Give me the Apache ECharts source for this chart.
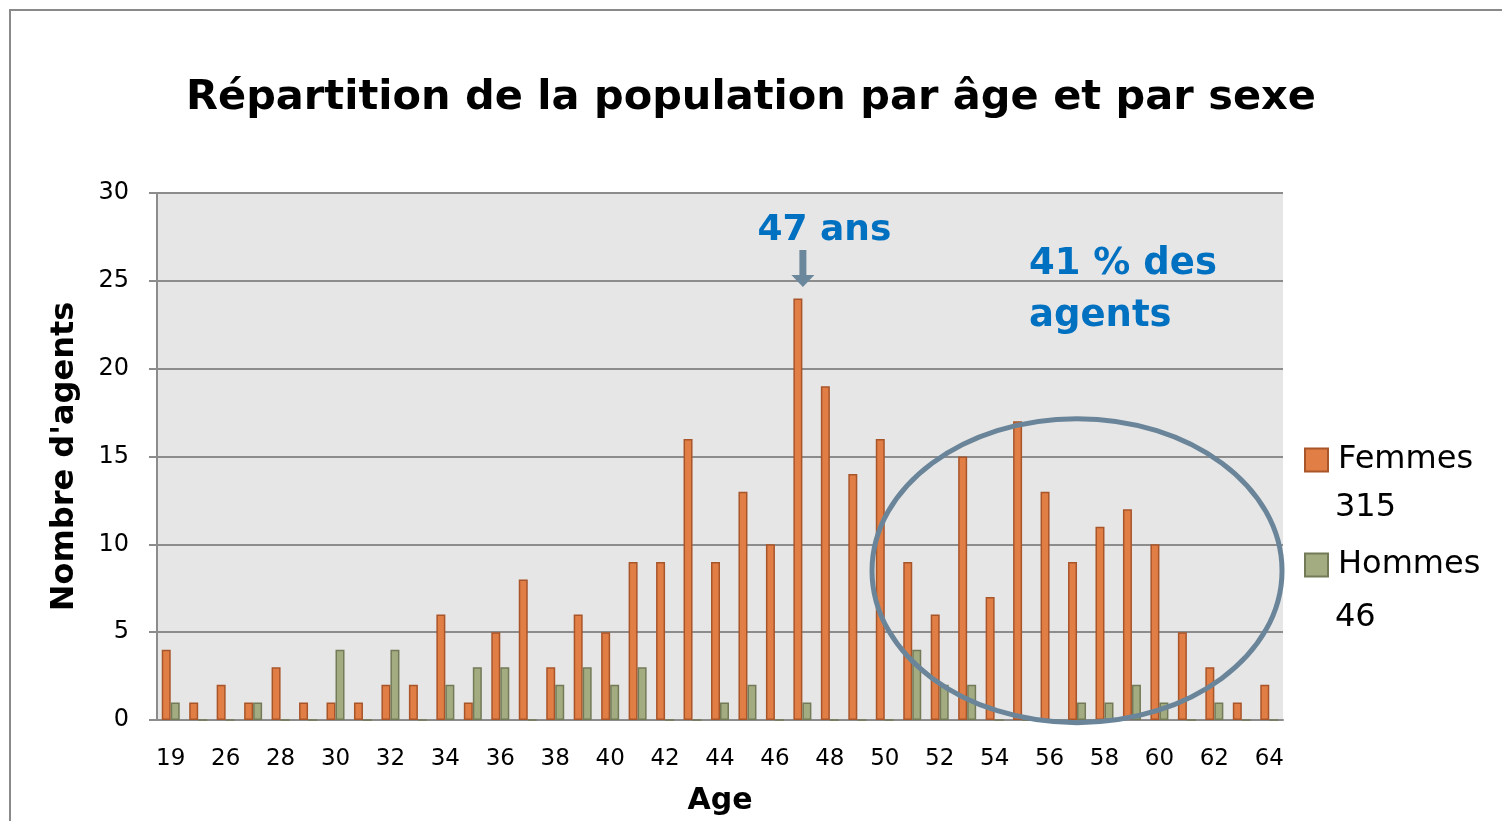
<!DOCTYPE html>
<html>
<head>
<meta charset="utf-8">
<script src="https://cdn.jsdelivr.net/npm/echarts@6/dist/echarts.min.js"></script>
<style>
html, body { margin: 0; padding: 0; background: #fff; }
#chart { width: 1502px; height: 821px; }
</style>
</head>
<body>
<div id="chart"></div>
<script>
// ages (the 2nd label is hidden by the axis label interval)
var ages = ["19", "25", "26", "27", "28", "29", "30", "31", "32", "33", "34", "35", "36", "37", "38", "39", "40",
    "41", "42", "43", "44", "45", "46", "47", "48", "49", "50", "51", "52", "53", "54", "55", "56", "57", "58",
    "59", "60", "61", "62", "63", "64"];
var femmes = [4, 1, 2, 1, 3, 1, 1, 1, 2, 2, 6, 1, 5, 8, 3, 6, 5, 9, 9, 16, 9, 13, 10, 24, 19, 14, 16,
    9, 6, 15, 7, 17, 13, 9, 11, 12, 10, 5, 3, 1, 2];
var hommes = [1, 0, 0, 1, 0, 0, 4, 0, 4, 0, 2, 3, 3, 0, 2, 3, 2, 3, 0, 0, 1, 2, 0, 1, 0, 0, 0,
    4, 2, 2, 0, 0, 0, 1, 1, 2, 1, 0, 1, 0, 0];
var seriesNames = ["Femmes", "Hommes"];
var totals = [315, 46];
var yTicks = [0, 5, 10, 15, 20, 25, 30];

var font = "'Comic Sans MS', 'DejaVu Sans', sans-serif";
var blue = "#0070C0";
var slate = "#6B879B";

var chart = echarts.init(document.getElementById("chart"));

chart.setOption({
    animation: false,
    textStyle: { fontFamily: font },
    title: {
        text: "Répartition de la population par âge et par sexe",
        left: "center",
        top: 72,
        textStyle: { fontSize: 41.5, fontWeight: "bold", color: "#000", fontFamily: font }
    },
    grid: { left: 157, right: 219, top: 193, bottom: 101, backgroundColor: "#e6e6e6", show: true, borderWidth: 0 },
    legend: {
        orient: "vertical",
        left: 1299,
        top: 439,
        itemWidth: 23,
        itemHeight: 23,
        itemGap: 73,
        icon: "rect",
        data: seriesNames,
        textStyle: { fontSize: 32, color: "#000", fontFamily: font, padding: [0, 0, 0, 5] }
    },
    xAxis: {
        type: "category",
        data: ages,
        name: "Age",
        nameLocation: "middle",
        nameGap: 66,
        nameTextStyle: { fontSize: 30, fontWeight: "bold", color: "#000" },
        axisLine: { lineStyle: { color: "#8c8c8c", width: 2 } },
        axisTick: { show: false },
        axisLabel: { interval: 1, fontSize: 23, color: "#000", margin: 28 }
    },
    yAxis: {
        type: "value",
        min: yTicks[0],
        max: yTicks[yTicks.length - 1],
        interval: 5,
        name: "Nombre d'agents",
        nameLocation: "middle",
        nameGap: 76,
        nameTextStyle: { fontSize: 32, fontWeight: "bold", color: "#000" },
        axisLine: { show: true, lineStyle: { color: "#8c8c8c", width: 2 } },
        axisTick: { show: true, length: 8, lineStyle: { color: "#8c8c8c", width: 2 } },
        axisLabel: { fontSize: 24, color: "#000", margin: 28 },
        splitLine: { lineStyle: { color: "#8c8c8c", width: 2 } }
    },
    series: [
        {
            name: seriesNames[0],
            type: "bar",
            data: femmes,
            barWidth: 9,
            barGap: "0%",
            itemStyle: { color: "#E07E45", borderColor: "#A9552A", borderWidth: 1.5 }
        },
        {
            name: seriesNames[1],
            type: "bar",
            data: hommes,
            barWidth: 9,
            itemStyle: { color: "#A3AC81", borderColor: "#737A58", borderWidth: 1.5 }
        }
    ]
});

// annotations placed from the axes
var peak = chart.convertToPixel({ gridIndex: 0 }, ["47", 24]);
var ring = chart.convertToPixel({ gridIndex: 0 }, ["57", 8.5]);

chart.setOption({
    graphic: [
        // outer frame
        { type: "rect", shape: { x: 10, y: 10, width: 1600, height: 900 }, style: { fill: null, stroke: "#8a8a8a", lineWidth: 2 } },
        // totals under legend names
        { type: "text", left: 1335, top: 492, style: { text: String(totals[0]), font: "32px " + font, fill: "#000" } },
        { type: "text", left: 1335, top: 602, style: { text: String(totals[1]), font: "32px " + font, fill: "#000" } },
        // peak label + arrow
        { type: "text", x: peak[0] - 45, y: 213, style: { text: "47 ans", font: "bold 36px " + font, fill: blue } },
        { type: "rect", shape: { x: peak[0] - 3, y: 250, width: 7, height: 26 }, style: { fill: slate } },
        { type: "polygon", shape: { points: [[peak[0] - 11, 275], [peak[0] + 12, 275], [peak[0] + 0.5, 287]] }, style: { fill: slate } },
        // highlighted group
        { type: "text", x: 1029, y: 238, style: { text: "41 % des\nagents", font: "bold 37px " + font, lineHeight: 52, fill: blue } },
        { type: "ellipse", shape: { cx: ring[0], cy: ring[1], rx: 205, ry: 152 }, style: { fill: null, stroke: "#6A8599", lineWidth: 5 }, z: 100 }
    ]
});
</script>
</body>
</html>
